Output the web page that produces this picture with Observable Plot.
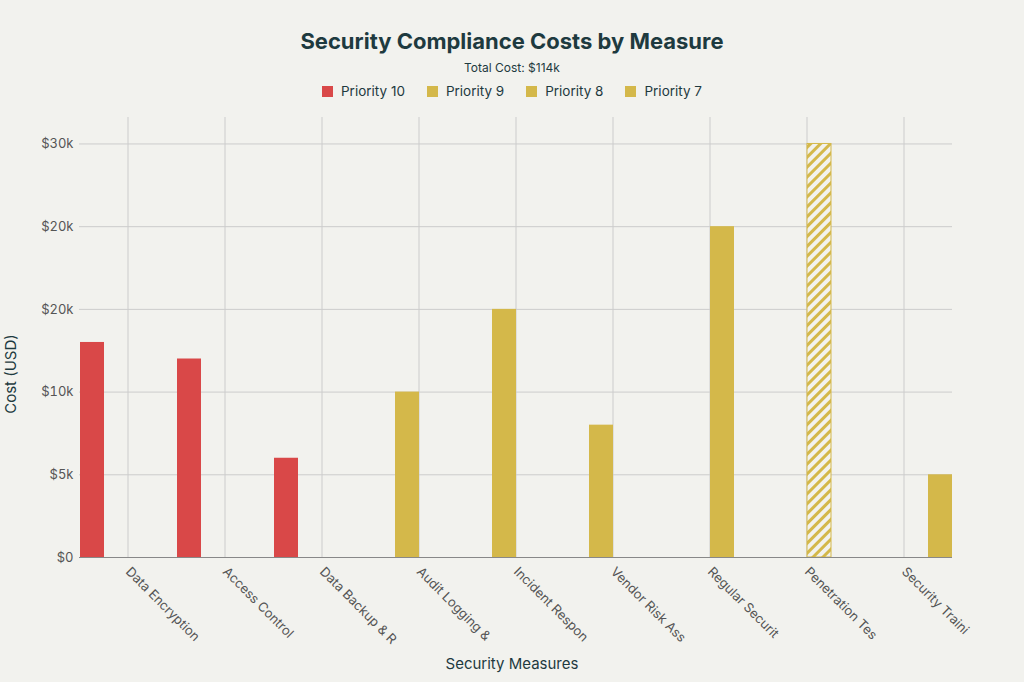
<!DOCTYPE html>
<html><head><meta charset="utf-8">
<script src="https://cdn.jsdelivr.net/npm/d3@7"></script>
<script src="https://cdn.jsdelivr.net/npm/@observablehq/plot@0.6"></script>
<style>
body{margin:0;background:#F2F2EE;font-family:Inter,"Noto Sans",sans-serif;color:#1E3A3F;width:1024px;height:682px;overflow:hidden}
#title{text-align:center;font-size:22px;font-weight:700;padding-top:28px;height:26px}
#sub{text-align:center;font-size:12px;margin-top:6px}
#legend{display:flex;justify-content:center;gap:22px;font-size:13.5px;margin-top:6px;height:20px;align-items:center}
#legend span i{display:inline-block;width:11px;height:11px;margin-right:8px;vertical-align:-1px}
</style></head><body>
<div id="title">Security Compliance Costs by Measure</div>
<div id="sub">Total Cost: $114k</div>
<div id="legend"></div>
<div id="chart"></div>
<script>
const measures=["Data Encryption","Access Control","Data Backup & R","Audit Logging &","Incident Respon","Vendor Risk Ass","Regular Securit","Penetration Tes","Security Traini"];
const costs=[13000,12000,6000,10000,15000,8000,20000,25000,5000];
const priorities=[10,10,10,9,9,9,8,8,7];
const hatched=[false,false,false,false,false,false,false,true,false];
const priorityOrder=[10,9,8,7];
const priorityColors=["#D94848","#D4B84A","#D4B84A","#D4B84A"];
const yTicks=[0,5000,10000,15000,20000,25000];
const yTickLabels=["$0","$5k","$10k","$20k","$20k","$30k"];

const data=measures.map((m,i)=>({measure:m,cost:costs[i],priority:priorities[i],hatch:hatched[i]}));
const colorOf=p=>priorityColors[priorityOrder.indexOf(p)];
document.getElementById("legend").innerHTML=priorityOrder.map((p,i)=>`<span><i style="background:${priorityColors[i]}"></i>Priority ${p}</span>`).join("");

const chart=Plot.plot({
  width:1024,height:585,marginTop:16,marginBottom:129,marginLeft:75,marginRight:69,
  style:{background:"transparent",fontFamily:"Inter, Noto Sans, sans-serif",fontSize:"13px",color:"#555"},
  fx:{domain:measures,padding:0,label:null},
  x:{domain:priorityOrder,padding:0,axis:null},
  y:{domain:[0,26600],label:null},
  marks:[
    Plot.gridY(yTicks,{stroke:"#ccc",strokeOpacity:1}),
    Plot.gridFx({stroke:"#ccc",strokeOpacity:1}),
    Plot.axisFx({anchor:"bottom",tickSize:0,tickRotate:45,tickPadding:12,fontSize:13,fill:"#555",label:null}),
    Plot.axisY({ticks:yTicks,tickSize:0,tickPadding:6,tickFormat:d=>yTickLabels[yTicks.indexOf(d)],fontSize:13,fill:"#555",label:null}),
    Plot.barY(data,{fx:"measure",x:"priority",y:"cost",fill:d=>d.hatch?"url(#hatch)":colorOf(d.priority),stroke:d=>d.hatch?colorOf(d.priority):"none",strokeWidth:1,inset:0}),
    Plot.ruleY([0],{stroke:"#888"})
  ]
});
const svg=d3.select(chart);
const pat=svg.insert("defs",":first-child").append("pattern").attr("id","hatch").attr("patternUnits","userSpaceOnUse").attr("width",7).attr("height",7).attr("patternTransform","rotate(45)");
pat.append("rect").attr("width",7).attr("height",7).attr("fill","#F2F2EE");
pat.append("rect").attr("width",3).attr("height",7).attr("fill","#D4B84A");
svg.append("text").attr("x",512).attr("y",568).attr("text-anchor","middle").attr("font-size",15).attr("fill","#1E3A3F").text("Security Measures");
svg.append("text").attr("transform","translate(16,273) rotate(-90)").attr("text-anchor","middle").attr("font-size",15).attr("fill","#1E3A3F").text("Cost (USD)");
document.getElementById("chart").appendChild(chart);
</script></body></html>
